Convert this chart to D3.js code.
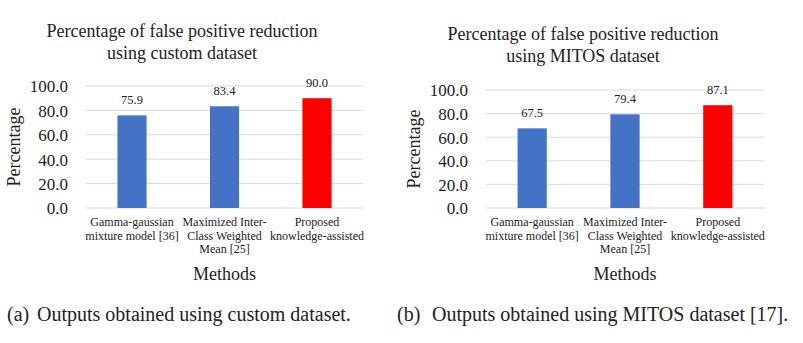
<!DOCTYPE html>
<html>
<head>
<meta charset="utf-8">
<script src="https://cdn.jsdelivr.net/npm/d3@7"></script>
<style>
	body { margin: 0; background: white; }
	svg { display: block; }
	text { font-family: 'Liberation Serif', 'DejaVu Serif', serif; fill: #222; }
</style>
</head>
<body>
<div id="chart"></div>
<script>
// ==== data ====
const categories = [
	['Gamma-gaussian', 'mixture model [36]'],
	['Maximized Inter-', 'Class Weighted', 'Mean [25]'],
	['Proposed', 'knowledge-assisted'],
];
const customValues = [75.9, 83.4, 90.0];
const mitosValues = [67.5, 79.4, 87.1];
const yTicks = [0, 20, 40, 60, 80, 100];
const barColors = ['#4472C4', '#4472C4', '#FF0000'];

const width = 803;
const height = 343;

const svg = d3
	.select('#chart')
	.append('svg')
	.attr('width', width)
	.attr('height', height);

// each panel gets its own frame, values come from the arrays above
const panels = [
	{
		values: customValues,
		title: ['Percentage of false positive reduction', 'using custom dataset'],
		titleX: 182, titleY: 37,
		x0: 86, x1: 363, y0: 208, y1: 86,
		yLabelX: 20,
		caption: '(a)', captionText: 'Outputs obtained using custom dataset.',
		capX: 7, capTextX: 37,
	},
	{
		values: mitosValues,
		title: ['Percentage of false positive reduction', 'using MITOS dataset'],
		titleX: 583, titleY: 40,
		x0: 486, x1: 764, y0: 208, y1: 90,
		yLabelX: 420,
		caption: '(b)', captionText: 'Outputs obtained using MITOS dataset [17].',
		capX: 397, capTextX: 432,
	},
];

panels.forEach(drawPanel);

function drawPanel(p) {
	const g = svg.append('g');
	const idx = categories.map((d, i) => i);

	const x = d3.scaleBand().domain(idx).range([p.x0, p.x1]).paddingInner(0.685).paddingOuter(0.34);
	const y = d3.scaleLinear().domain([0, 100]).range([p.y0, p.y1]);

	// gridlines
	g.selectAll('.grid')
		.data(yTicks)
		.enter()
		.append('line')
		.attr('x1', p.x0)
		.attr('x2', p.x1)
		.attr('y1', (d) => y(d))
		.attr('y2', (d) => y(d))
		.attr('stroke', '#D9D9D9')
		.attr('stroke-width', 1);

	// y axis tick labels (no domain line)
	const yAxis = d3.axisLeft(y).tickValues(yTicks).tickSize(0).tickPadding(18).tickFormat(d3.format('.1f'));
	const ax = g.append('g')
		.attr('transform', `translate(${p.x0},0)`)
		.call(yAxis)
		.attr('font-family', null)
		.attr('font-size', null);
	ax.select('.domain').remove();
	ax.selectAll('text')
		.style('font-family', "'Liberation Serif', serif")
		.style('font-size', '17px')
		.style('fill', '#222')
		.attr('dy', '0.35em');

	// bars
	g.selectAll('.bar')
		.data(p.values)
		.enter()
		.append('rect')
		.attr('x', (d, i) => x(i))
		.attr('width', x.bandwidth())
		.attr('y', (d) => y(d))
		.attr('height', (d) => y(0) - y(d))
		.attr('fill', (d, i) => barColors[i]);

	// value labels
	g.selectAll('.val')
		.data(p.values)
		.enter()
		.append('text')
		.attr('x', (d, i) => x(i) + x.bandwidth() / 2)
		.attr('y', (d) => y(d) - 11)
		.attr('text-anchor', 'middle')
		.attr('font-size', 12.5)
		.text((d) => d3.format('.1f')(d));

	// category labels
	const cat = g.selectAll('.cat')
		.data(categories)
		.enter()
		.append('text')
		.attr('text-anchor', 'middle')
		.attr('font-size', 12);
	cat.selectAll('tspan')
		.data((d, i) => d.map((line) => ({ line, i })))
		.enter()
		.append('tspan')
		.attr('x', (d) => x(d.i) + x.bandwidth() / 2)
		.attr('y', (d, j) => p.y0 + 18 + j * 13.7)
		.text((d) => d.line);

	// axis titles
	g.append('text')
		.attr('x', x(1) + x.bandwidth() / 2)
		.attr('y', 280)
		.attr('text-anchor', 'middle')
		.attr('font-size', 18)
		.text('Methods');

	g.append('text')
		.attr('transform', `translate(${p.yLabelX},${(p.y0 + p.y1) / 2}) rotate(-90)`)
		.attr('text-anchor', 'middle')
		.attr('font-size', 18)
		.text('Percentage');

	// chart title
	g.append('text')
		.attr('text-anchor', 'middle')
		.attr('font-size', 18)
		.selectAll('tspan')
		.data(p.title)
		.enter()
		.append('tspan')
		.attr('x', p.titleX)
		.attr('y', (d, j) => p.titleY + j * 21.5)
		.text((d) => d);

	// caption
	g.append('text')
		.attr('x', p.capX)
		.attr('y', 321)
		.attr('font-size', 20)
		.text(p.caption);
	g.append('text')
		.attr('x', p.capTextX)
		.attr('y', 321)
		.attr('font-size', 20)
		.text(p.captionText);
}
</script>
</body>
</html>
